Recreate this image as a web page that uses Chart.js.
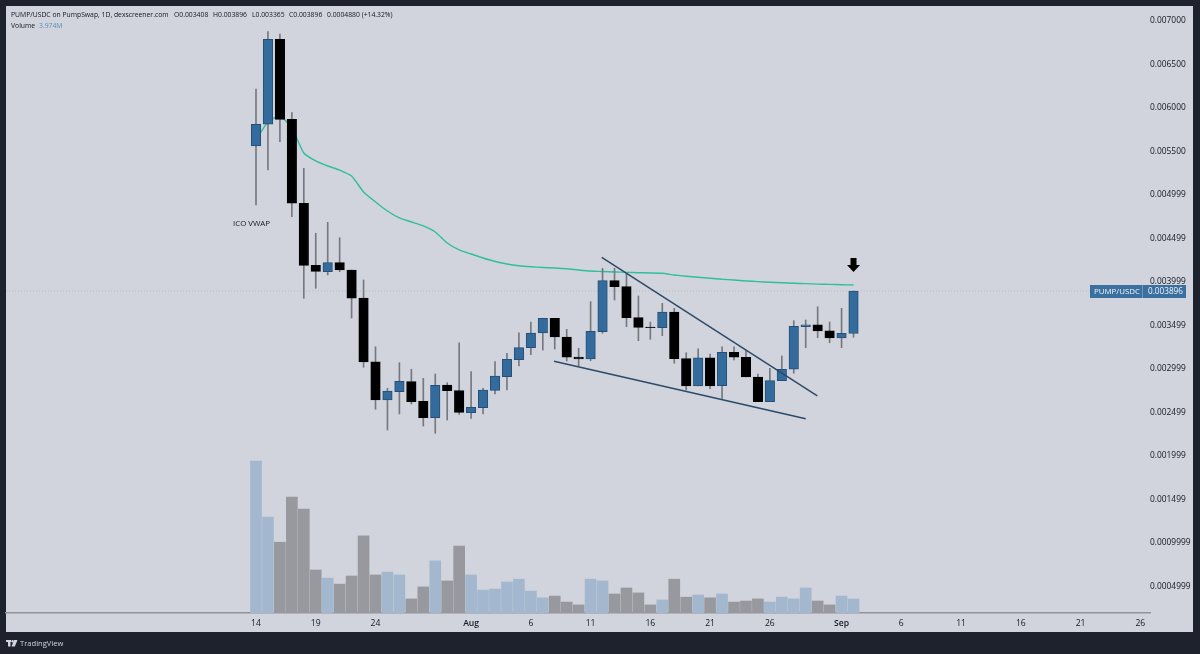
<!DOCTYPE html>
<html>
<head>
<meta charset="utf-8">
<title>PUMP/USDC</title>
<script src="https://cdn.jsdelivr.net/npm/chart.js@4"></script>
<style>
  html, body { margin: 0; padding: 0; background: #1e222d; overflow: hidden; }
  canvas { display: block; }
</style>
</head>
<body>
<canvas id="chart" width="1200" height="654"></canvas>
<script>
// daily candles, Jul 14 -> Sep 2
const opens = [0.005563,0.005813,0.006790,0.005870,0.004905,0.004192,0.004118,0.004222,0.004138,0.003816,0.003081,0.002644,0.002739,0.002854,0.002629,0.002440,0.002816,0.002751,0.002498,0.002555,0.002755,0.002912,0.003107,0.003245,0.003414,0.003583,0.003368,0.003138,0.003115,0.003429,0.004015,0.003946,0.003590,0.003483,0.003475,0.003655,0.003119,0.002805,0.003127,0.002808,0.003192,0.003135,0.002908,0.002624,0.002866,0.002997,0.003486,0.003509,0.003440,0.003356,0.003408];
const highs = [0.006218,0.006877,0.006851,0.005946,0.005307,0.004560,0.004686,0.004509,0.004138,0.004023,0.003256,0.002778,0.003073,0.002997,0.002893,0.002943,0.002843,0.003302,0.002969,0.002778,0.003084,0.003181,0.003417,0.003540,0.003583,0.003583,0.003456,0.003238,0.003774,0.004158,0.004158,0.004100,0.003839,0.003540,0.003755,0.003698,0.003187,0.003233,0.003172,0.003256,0.003256,0.003218,0.002943,0.003008,0.003150,0.003555,0.003563,0.003716,0.003540,0.003698,0.003896];
const lows = [0.004885,0.005287,0.005613,0.004751,0.003813,0.003928,0.004081,0.004118,0.003586,0.003020,0.002537,0.002299,0.002483,0.002598,0.002345,0.002261,0.002414,0.002479,0.002433,0.002483,0.002713,0.002759,0.003035,0.003165,0.003218,0.003230,0.003092,0.003035,0.003096,0.003410,0.003793,0.003486,0.003325,0.003341,0.003383,0.003066,0.002759,0.002805,0.002774,0.002663,0.003104,0.002908,0.002624,0.002624,0.002866,0.002951,0.003245,0.003360,0.003302,0.003245,0.003365];
const closes = [0.005813,0.006790,0.005870,0.004905,0.004192,0.004123,0.004222,0.004138,0.003813,0.003081,0.002644,0.002747,0.002859,0.002624,0.002440,0.002813,0.002751,0.002502,0.002560,0.002759,0.002920,0.003112,0.003245,0.003414,0.003583,0.003368,0.003135,0.003115,0.003433,0.004015,0.003946,0.003590,0.003479,0.003475,0.003655,0.003119,0.002805,0.003127,0.002805,0.003192,0.003135,0.002908,0.002624,0.002866,0.002997,0.003491,0.003509,0.003437,0.003356,0.003410,0.003896];
const volumes = [43.1,27.2,20.1,32.9,29.5,12.2,9.9,8.2,10.5,21.9,10.8,11.6,10.8,4.0,7.4,14.8,9.1,19.0,10.8,6.5,6.8,8.8,9.6,6.2,4.3,4.8,3.1,2.3,9.6,9.1,5.4,7.1,5.7,2.3,3.7,9.6,4.5,5.1,4.3,5.4,3.1,3.4,4.0,3.1,4.5,4.0,7.1,3.4,2.3,4.8,3.974];
const vwap = [0.005632,0.005839,0.005908,0.005770,0.005483,0.005391,0.005333,0.005287,0.005218,0.005035,0.004920,0.004816,0.004736,0.004690,0.004644,0.004575,0.004448,0.004368,0.004322,0.004276,0.004236,0.004207,0.004187,0.004175,0.004167,0.004161,0.004152,0.004138,0.004126,0.004121,0.004115,0.004111,0.004107,0.004104,0.004100,0.004081,0.004066,0.004054,0.004043,0.004031,0.004023,0.004012,0.004004,0.003997,0.003991,0.003985,0.003981,0.003976,0.003973,0.003969,0.003966];

// drawn wedge lines, day index / price
const upperLineDays = [28.93, 46.97];
const upperLinePrices = [0.004284, 0.002690];
const lowerLineDays = [24.94, 46.0];
const lowerLinePrices = [0.003089, 0.002429];

const priceTickLabels = ['0.007000','0.006500','0.006000','0.005500','0.004999','0.004499','0.003999','0.003499','0.002999','0.002499','0.001999','0.001499','0.0009999','0.0004999'];
const dayTicks = [0,5,10,18,23,28,33,38,43,49,54,59,64,69,74];
const dayTickLabels = ['14','19','24','Aug','6','11','16','21','26','Sep','6','11','16','21','26'];

const BLUE = '#336b9c', BLUE_EDGE = '#254f78', BLACK = '#000000', WICK = '#75797f';
const VOL_BLUE = '#a3b8ce', VOL_GREY = '#98999e', PANEL = '#d1d4dc', DARK = '#1e222d', TEXT = '#131722';
const FONT = '"Open Sans", sans-serif';

const isUp = closes.map((c, i) => c >= opens[i]);
const lastDay = closes.length - 1;
const lastClose = closes[lastDay];

// panel, labels, price tag, arrow, logo
const decorations = {
  id: 'decorations',
  beforeDraw(chart) {
    const c = chart.ctx;
    c.save();
    c.fillStyle = DARK;
    c.fillRect(0, 0, 1200, 654);
    c.fillStyle = PANEL;
    c.fillRect(6, 6, 1187, 626);
    c.restore();
  },
  afterDraw(chart) {
    const c = chart.ctx, x = chart.scales.x, y = chart.scales.y;
    c.save();
    c.textBaseline = 'middle';
    c.textAlign = 'left';
    c.font = '6.8px ' + FONT;
    c.fillStyle = TEXT;
    c.fillText('PUMP/USDC on PumpSwap, 1D, dexscreener.com', 11, 15.5);
    c.fillText('O0.003408', 174, 15.5);
    c.fillText('H0.003896', 213, 15.5);
    c.fillText('L0.003365', 252, 15.5);
    c.fillText('C0.003896', 289, 15.5);
    c.fillText('0.0004880 (+14.32%)', 327, 15.5);
    c.fillText('Volume', 11, 26);
    c.fillStyle = '#5a8cb8';
    c.fillText('3.974M', 39, 26);

    c.fillStyle = TEXT;
    c.font = '7.9px ' + FONT;
    c.fillText('ICO VWAP', 233, 223.5);

    // last price tag
    const py = Math.round(y.getPixelForValue(lastClose));
    c.fillStyle = '#3a70a0';
    c.fillRect(1090, py - 6, 96, 13);
    c.fillStyle = '#6c95ba';
    c.fillRect(1142, py - 6, 1, 13);
    c.fillStyle = '#f2f4f8';
    c.font = '7.9px ' + FONT;
    c.fillText('PUMP/USDC', 1094, py + 0.5);
    c.font = '8.2px ' + FONT;
    c.fillText('0.003896', 1148, py + 0.5);

    // arrow over the last candle
    const ax = x.getPixelForValue(lastDay);
    const ay = y.getPixelForValue(0.004276);
    c.fillStyle = '#000';
    c.beginPath();
    c.moveTo(ax - 3, ay);
    c.lineTo(ax + 3, ay);
    c.lineTo(ax + 3, ay + 7);
    c.lineTo(ax + 6.5, ay + 7);
    c.lineTo(ax, ay + 14);
    c.lineTo(ax - 6.5, ay + 7);
    c.lineTo(ax - 3, ay + 7);
    c.closePath();
    c.fill();

    // TradingView footer
    c.fillStyle = PANEL;
    c.fillRect(6, 640, 5, 2);
    c.fillRect(8, 640, 2.5, 6.5);
    c.beginPath();
    c.arc(12.5, 641.2, 1.2, 0, Math.PI * 2);
    c.fill();
    c.beginPath();
    c.moveTo(14, 640);
    c.lineTo(17.5, 640);
    c.lineTo(14.8, 646.5);
    c.lineTo(11.6, 646.5);
    c.closePath();
    c.fill();
    c.font = '7.6px ' + FONT;
    c.fillText('TradingView', 20, 643.5);
    c.restore();
  }
};

new Chart(document.getElementById('chart'), {
  type: 'bar',
  data: {
    datasets: [
      {
        label: 'Candle body',
        data: opens.map((o, i) => ({ x: i, y: [o, closes[i]] })),
        backgroundColor: isUp.map(u => u ? BLUE : BLACK),
        borderColor: isUp.map(u => u ? BLUE_EDGE : BLACK),
        borderWidth: 1,
        borderSkipped: false,
        barThickness: 9.5,
        grouped: false,
        yAxisID: 'y',
        order: 1
      },
      {
        label: 'Candle wick',
        data: lows.map((l, i) => ({ x: i, y: [l, highs[i]] })),
        backgroundColor: WICK,
        barThickness: 1,
        grouped: false,
        yAxisID: 'y',
        order: 2
      },
      {
        type: 'line',
        label: 'ICO VWAP',
        data: vwap.map((v, i) => ({ x: i, y: v })),
        borderColor: '#2fbf9b',
        borderWidth: 1.4,
        pointRadius: 0,
        tension: 0.2,
        yAxisID: 'y',
        order: 3
      },
      {
        type: 'line',
        label: 'Upper line',
        data: upperLineDays.map((d, i) => ({ x: d, y: upperLinePrices[i] })),
        borderColor: '#2c4a69',
        borderWidth: 1.5,
        pointRadius: 0,
        yAxisID: 'y',
        order: 0
      },
      {
        type: 'line',
        label: 'Lower line',
        data: lowerLineDays.map((d, i) => ({ x: d, y: lowerLinePrices[i] })),
        borderColor: '#2c4a69',
        borderWidth: 1.5,
        pointRadius: 0,
        yAxisID: 'y',
        order: 0
      },
      {
        type: 'line',
        label: 'Last price',
        data: [{ x: -20.92, y: lastClose }, { x: 69.8, y: lastClose }],
        borderColor: '#b8bbc3',
        borderWidth: 1,
        borderDash: [1, 2],
        pointRadius: 0,
        yAxisID: 'y',
        order: 5
      },
      {
        label: 'Volume',
        data: volumes.map((v, i) => ({ x: i, y: v })),
        backgroundColor: isUp.map(u => u ? VOL_BLUE : VOL_GREY),
        barThickness: 11,
        grouped: false,
        yAxisID: 'vol',
        order: 4
      }
    ]
  },
  options: {
    responsive: false,
    animation: false,
    events: [],
    layout: { padding: { left: 6, top: 6, right: 7, bottom: 22 } },
    plugins: { legend: { display: false }, tooltip: { enabled: false } },
    scales: {
      x: {
        type: 'linear',
        offset: false,
        min: -20.92,
        max: 74.81,
        afterFit: s => { s.height = 19; },
        afterBuildTicks: s => { s.ticks = dayTicks.map(v => ({ value: v })); },
        grid: { display: false, drawTicks: false, offset: false },
        border: { display: true, color: '#8f939b', width: 1.5 },
        ticks: {
          padding: 5,
          autoSkip: false,
          maxRotation: 0,
          color: TEXT,
          // month names are heavier than day numbers
          font: ctx => ({
            family: 'Open Sans',
            size: 8.6,
            weight: isNaN(dayTickLabels[ctx.index]) ? '600' : '400'
          }),
          callback: v => dayTickLabels[dayTicks.indexOf(v)]
        }
      },
      y: {
        type: 'linear',
        position: 'right',
        min: 0.0001954,
        max: 0.0071724,
        afterFit: s => { s.width = 43; },
        afterBuildTicks: s => { s.ticks = priceTickLabels.map(l => ({ value: parseFloat(l) })); },
        grid: { display: false, drawTicks: false },
        border: { display: false },
        ticks: {
          padding: 0,
          autoSkip: false,
          color: TEXT,
          font: { family: 'Open Sans', size: 8.4 },
          callback: v => priceTickLabels.find(l => parseFloat(l) === v)
        }
      },
      vol: {
        type: 'linear',
        display: false,
        min: 0,
        max: 172.3
      }
    }
  },
  plugins: [decorations]
});
</script>
</body>
</html>
